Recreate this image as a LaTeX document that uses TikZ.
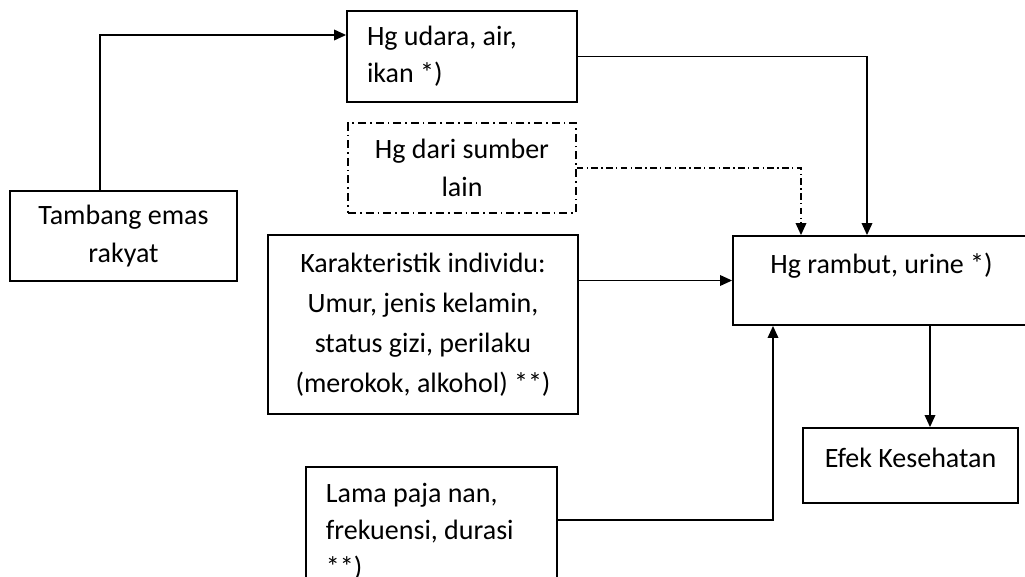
\documentclass[tikz,border=0pt]{standalone}
\usepackage{fontspec}
\setmainfont{Carlito}
\usetikzlibrary{arrows.meta, positioning}

\begin{document}
\begin{tikzpicture}[
			x=0.75pt, y=-0.75pt,
			every node/.style={font=\fontsize{21}{28}\selectfont},
			box/.style={draw, rectangle, line width=1.4pt, align=center},
			dashbox/.style={box, line width=1.2pt, dash pattern=on 6pt off 3pt on 1.2pt off 3pt},
			arrow/.style={-{Triangle[length=9pt, width=8pt]}, line width=1pt},
			dasharrow/.style={arrow, dash pattern=on 5pt off 2.5pt on 1pt off 2.5pt}
			]
			\useasboundingbox (0,0) rectangle (1025,577);
			\clip (0,0) rectangle (1025,577);
			
			% Nodes
			\node (tambang) [box, minimum width=170.25pt, minimum height=67.5pt] at (123.5,236) {Tambang emas\\rakyat};
			\node (udara) [box, align=flush left, text width=142.5pt, inner xsep=15pt, minimum height=68.25pt] at (462,56.5) {Hg udara, air,\\ikan *)};
			\node (sumber) [dashbox, minimum width=171pt, minimum height=67.5pt] at (462,168) {Hg dari sumber\\lain};
			\node (individu) [box, minimum width=232.5pt, minimum height=134.25pt, font=\fontsize{21}{30}\selectfont] at (423,324.5) {Karakteristik individu:\\Umur, jenis kelamin,\\status gizi, perilaku\\(merokok, alkohol) **)};
			\node (rambut) [box, minimum width=222.75pt, minimum height=66.75pt, text depth=26pt] at (881.5,280.5) {Hg rambut, urine *)};
			\node (efek) [box, minimum width=161.25pt, minimum height=56.25pt, text depth=12pt] at (910.5,465.5) {Efek Kesehatan};
			\node (lama) [box, anchor=north west, align=flush left, text width=158.25pt, inner xsep=15pt, inner ysep=12pt] at (305,466) {Lama paja nan,\\frekuensi, durasi\\{**)}};
			
			% Bends
			\coordinate (b1) at (100,35);
			\coordinate (b2) at (867,0);
			\coordinate (b3) at (801,0);
			\coordinate (b4) at (773,520);
			\coordinate (b5) at (930,0);
			
			% Connections
			\draw [arrow] (tambang.north -| b1) |- (udara.west |- b1);
			\draw [arrow] (udara.east) -| (rambut.north -| b2);
			\draw [dasharrow] (sumber.east) -| (rambut.north -| b3);
			\draw [arrow] (individu.east |- rambut.west) -- (rambut.west);
			\draw [arrow] (lama.east |- b4) -| (rambut.south -| b4);
			\draw [arrow] (rambut.south -| b5) -- (efek.north -| b5);
			
		\end{tikzpicture}
\end{document}
